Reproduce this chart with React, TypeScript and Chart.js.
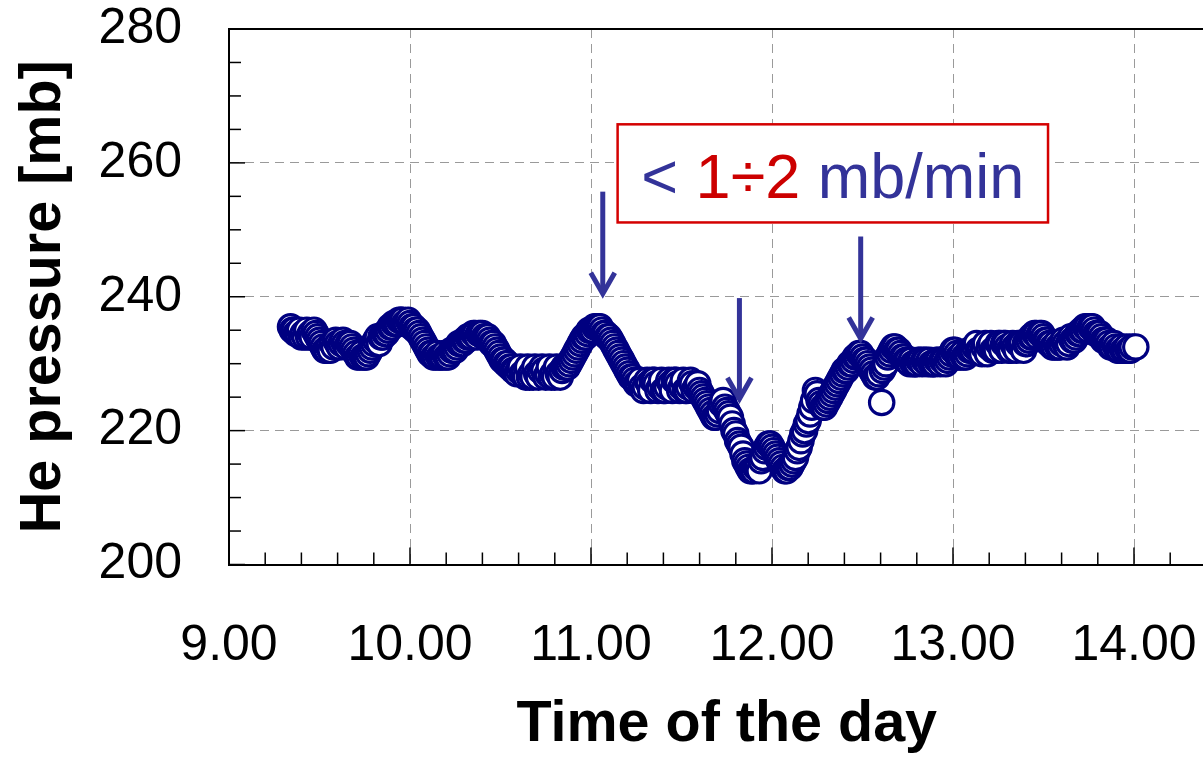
import React, { useEffect, useRef } from "react";
import { Chart, registerables } from "chart.js";

Chart.register(...registerables);

// ---- data (time of day in hours, He pressure in mb) ----
// readings at even hundredths of an hour
const timeHours = [
  9.34, 9.35, 9.36, 9.37, 9.38, 9.40, 9.42, 9.44, 9.46, 9.48,
  9.50, 9.52, 9.54, 9.56, 9.58, 9.60, 9.62, 9.64, 9.66, 9.68,
  9.70, 9.72, 9.74, 9.76, 9.78, 9.80, 9.82, 9.84, 9.86, 9.88,
  9.90, 9.92, 9.94, 9.96, 9.98, 10.00, 10.02, 10.04, 10.06, 10.08,
  10.10, 10.12, 10.14, 10.16, 10.18, 10.20, 10.22, 10.24, 10.26, 10.28,
  10.30, 10.32, 10.34, 10.36, 10.38, 10.40, 10.42, 10.44, 10.46, 10.48,
  10.50, 10.52, 10.54, 10.56, 10.58, 10.60, 10.62, 10.64, 10.66, 10.68,
  10.70, 10.72, 10.74, 10.76, 10.78, 10.80, 10.82, 10.84, 10.86, 10.88,
  10.90, 10.92, 10.94, 10.96, 10.98, 11.00, 11.02, 11.04, 11.06, 11.08,
  11.10, 11.12, 11.14, 11.16, 11.18, 11.20, 11.22, 11.24, 11.26, 11.28,
  11.30, 11.32, 11.34, 11.36, 11.38, 11.40, 11.42, 11.44, 11.46, 11.48,
  11.50, 11.52, 11.54, 11.56, 11.58, 11.60, 11.62, 11.64, 11.66, 11.68,
  11.70, 11.72, 11.74, 11.76, 11.78, 11.80, 11.82, 11.84, 11.86, 11.88,
  11.90, 11.92, 11.94, 11.96, 11.98, 12.00, 12.02, 12.04, 12.06, 12.08,
  12.10, 12.12, 12.14, 12.16, 12.18, 12.20, 12.22, 12.24, 12.26, 12.28,
  12.30, 12.32, 12.34, 12.36, 12.38, 12.40, 12.42, 12.44, 12.46, 12.48,
  12.50, 12.52, 12.54, 12.56, 12.58, 12.606, 12.62, 12.64, 12.66, 12.68,
  12.70, 12.72, 12.74, 12.76, 12.78, 12.80, 12.82, 12.84, 12.86, 12.88,
  12.90, 12.92, 12.94, 12.96, 12.98, 13.00, 13.02, 13.04, 13.06, 13.08,
  13.10, 13.12, 13.14, 13.16, 13.18, 13.20, 13.22, 13.24, 13.26, 13.28,
  13.30, 13.32, 13.34, 13.36, 13.38, 13.40, 13.42, 13.44, 13.46, 13.48,
  13.50, 13.52, 13.54, 13.56, 13.58, 13.60, 13.62, 13.64, 13.66, 13.68,
  13.70, 13.72, 13.74, 13.76, 13.78, 13.80, 13.82, 13.84, 13.86, 13.88,
  13.90, 13.92, 13.94, 13.96, 13.98, 14.01,
];

const pressureMb = [
  235.5, 235, 235, 234.5, 234.5, 234, 234, 234, 234, 234.5,
  233.5, 232.5, 232, 232, 232.5, 233, 233, 233, 233, 232.5,
  231.5, 231, 231, 231, 232, 233, 234, 234, 234.5, 235,
  235.5, 236, 236.5, 236.5, 236, 236, 235.5, 235, 234, 233,
  232, 231.5, 231, 231, 231, 231, 231.5, 232, 232.5, 233,
  233.5, 234, 234, 234.5, 234.5, 234.5, 234, 233.5, 233, 232,
  231, 230.5, 230, 229.5, 229, 229, 228.5, 228, 228, 228,
  228.5, 229, 229, 228.5, 228, 228, 228.5, 229, 229.5, 230,
  231, 232, 233, 234, 234.5, 235, 235.5, 235.5, 235, 234.5,
  234, 233, 232, 231, 230, 229, 228, 227.5, 227, 226.5,
  226.5, 227, 227.5, 227, 226.5, 226, 226.5, 227, 227.5, 227,
  226.5, 226, 226.5, 227, 226.5, 226, 225, 224, 223, 222,
  222.5, 224, 223.5, 222.5, 221, 219.5, 218, 216.5, 215, 214,
  214, 214.5, 215.5, 217, 218, 217.5, 216.5, 215.5, 214.5, 214,
  214.5, 215.5, 217, 218.5, 220, 221.5, 223.5, 226, 224.5, 223.5,
  224, 225, 226, 227, 228, 229, 229.5, 230, 231, 231.5,
  231, 230.5, 229.5, 228.5, 228, 224.2, 229.5, 231, 232, 232.5,
  232, 231, 230.5, 230, 230, 230, 230.5, 230.5, 230, 230,
  230, 230.5, 230.5, 230, 231, 232, 231.5, 231, 231, 231.5,
  232, 232.5, 232, 231.5, 233, 232.5, 232, 232, 233, 233,
  232.5, 232, 232.5, 233, 233, 233, 233.5, 234, 234.5, 234.5,
  234, 233.5, 233, 232.5, 232.5, 233, 233, 233, 233.5, 234,
  234.5, 235, 235.5, 235.5, 235, 234.5, 234, 233.5, 233, 232.5,
  232.5, 232, 232, 232.5, 232, 232.5,
];

// readings at odd hundredths of an hour
const midTimeHours = [
  9.39, 9.41, 9.43, 9.45, 9.47, 9.49, 9.51, 9.53, 9.55, 9.57,
  9.59, 9.61, 9.63, 9.65, 9.67, 9.69, 9.71, 9.73, 9.75, 9.77,
  9.79, 9.81, 9.83, 9.85, 9.87, 9.89, 9.91, 9.93, 9.95, 9.97,
  9.99, 10.01, 10.03, 10.05, 10.07, 10.09, 10.11, 10.13, 10.15, 10.17,
  10.19, 10.21, 10.23, 10.25, 10.27, 10.29, 10.31, 10.33, 10.35, 10.37,
  10.39, 10.41, 10.43, 10.45, 10.47, 10.49, 10.51, 10.53, 10.55, 10.57,
  10.59, 10.61, 10.63, 10.65, 10.67, 10.69, 10.71, 10.73, 10.75, 10.77,
  10.79, 10.81, 10.83, 10.85, 10.87, 10.89, 10.91, 10.93, 10.95, 10.97,
  10.99, 11.01, 11.03, 11.05, 11.07, 11.09, 11.11, 11.13, 11.15, 11.17,
  11.19, 11.21, 11.23, 11.25, 11.27, 11.29, 11.31, 11.33, 11.35, 11.37,
  11.39, 11.41, 11.43, 11.45, 11.47, 11.49, 11.51, 11.53, 11.55, 11.57,
  11.59, 11.61, 11.63, 11.65, 11.67, 11.69, 11.71, 11.73, 11.75, 11.77,
  11.79, 11.81, 11.83, 11.85, 11.87, 11.89, 11.91, 11.93, 11.95, 11.97,
  11.99, 12.01, 12.03, 12.05, 12.07, 12.09, 12.11, 12.13, 12.15, 12.17,
  12.19, 12.21, 12.23, 12.25, 12.27, 12.29, 12.31, 12.33, 12.35, 12.37,
  12.39, 12.41, 12.43, 12.45, 12.47, 12.49, 12.51, 12.53, 12.55, 12.57,
  12.59, 12.61, 12.63, 12.65, 12.67, 12.69, 12.71, 12.73, 12.75, 12.77,
  12.79, 12.81, 12.83, 12.85, 12.87, 12.89, 12.91, 12.93, 12.95, 12.97,
  12.99, 13.01, 13.03, 13.05, 13.07, 13.09, 13.11, 13.13, 13.15, 13.17,
  13.19, 13.21, 13.23, 13.25, 13.27, 13.29, 13.31, 13.33, 13.35, 13.37,
  13.39, 13.41, 13.43, 13.45, 13.47, 13.49, 13.51, 13.53, 13.55, 13.57,
  13.59, 13.61, 13.63, 13.65, 13.67, 13.69, 13.71, 13.73, 13.75, 13.77,
  13.79, 13.81, 13.83, 13.85, 13.87, 13.89, 13.91, 13.93, 13.95, 13.97,
  13.99,
];

const midPressureMb = [
  235, 234.5, 235, 234.5, 235, 234, 233, 232, 232.5, 233,
  233.5, 232.5, 233.5, 232.5, 233, 232, 231, 231.5, 231, 231.5,
  232.5, 233.5, 233, 234, 234.5, 235.5, 236, 236, 236.5, 236,
  236.5, 235.5, 235, 234.5, 233.5, 232.5, 231.5, 231, 231.5, 231,
  231.5, 231, 232, 232, 233, 233, 233.5, 234, 234.5, 234,
  234.5, 234, 234, 233, 232.5, 231.5, 230.5, 230, 229.5, 229,
  228.5, 229.5, 228.5, 229.5, 228.5, 229.5, 228, 229.5, 228, 229.5,
  228.5, 229.5, 228, 229.5, 229.5, 230.5, 231.5, 232.5, 233.5, 234,
  235, 235, 235.5, 235.5, 234.5, 234, 233.5, 232.5, 231.5, 230.5,
  229.5, 228.5, 228, 227, 227.5, 226, 227.5, 226, 227.5, 226,
  227.5, 226, 227.5, 226, 227.5, 226, 227.5, 226, 227.5, 226,
  227, 225.5, 224.5, 223.5, 222.5, 222, 223, 224.5, 223, 222,
  220, 218.5, 217.5, 215.5, 214.5, 214, 214.5, 214, 216, 217.5,
  218, 217, 216, 215, 214, 214.5, 215, 216, 217.5, 219.5,
  221, 222.5, 224.5, 225.5, 224, 223.5, 224.5, 225.5, 226.5, 227.5,
  228.5, 229, 230, 230.5, 231, 231.5, 230.5, 230, 229, 228,
  228.5, 229, 230, 231.5, 232.5, 232, 231.5, 231, 230.5, 230.5,
  230, 230.5, 230, 230.5, 230.5, 230, 230.5, 230, 230.5, 230.5,
  231.5, 232, 231, 231.5, 231, 232, 232, 233, 232, 232.5,
  231.5, 233, 232, 233, 232, 233, 232, 233, 232, 233,
  232, 233, 234, 234.5, 234, 234.5, 233.5, 233, 232.5, 233,
  232.5, 233.5, 232.5, 234, 233.5, 234.5, 235, 235.5, 235, 235.5,
  234.5, 234.5, 233.5, 233.5, 232.5, 233, 232, 232.5, 232, 232,
  232.5,
];

// axis labels
const xLabelValues = [9, 10, 11, 12, 13, 14];
const yLabelValues = [200, 220, 240, 260, 280];
const xTitle = "Time of the day";
const yTitle = "He pressure [mb]";

// annotation (data units)
const arrowX = [11.065, 11.82, 12.49];
const arrowTop = [255.7, 239.8, 249.0];
const arrowTip = [240.0, 224.3, 233.3];
const boxX = [11.147, 13.525];
const boxY = [265.76, 251.1];
const noteBaseline = 254.8;
const noteParts = ["< ", "1÷2", " mb/min"];
const noteColors = ["#333399", "#cc0000", "#333399"];

const FONT = '"Liberation Sans", Arial, Helvetica, sans-serif';

const isIn = (v: number, list: number[]) => list.some((l) => Math.abs(l - v) < 1e-6);

const overlayPlugin = {
  id: "overlay",
  beforeDatasetsDraw(chart: any) {
    const { ctx, chartArea } = chart;
    const xs = chart.scales.x;
    const ys = chart.scales.y;
    ctx.save();
    ctx.strokeStyle = "#000";
    ctx.lineWidth = 1.5;
    xs.ticks.forEach((t: any) => {
      const px = xs.getPixelForValue(t.value);
      if (px < chartArea.left - 0.5 || px > chartArea.right + 0.5) return;
      const len = isIn(t.value, xLabelValues) ? 17 : 12;
      ctx.beginPath();
      ctx.moveTo(px, chartArea.bottom);
      ctx.lineTo(px, chartArea.bottom - len);
      ctx.stroke();
    });
    ys.ticks.forEach((t: any) => {
      const py = ys.getPixelForValue(t.value);
      const len = isIn(t.value, yLabelValues) ? 16 : 12;
      ctx.beginPath();
      ctx.moveTo(chartArea.left, py);
      ctx.lineTo(chartArea.left + len, py);
      ctx.stroke();
    });
    ctx.lineWidth = 2;
    ctx.beginPath();
    ctx.moveTo(chartArea.left, chartArea.top);
    ctx.lineTo(chartArea.right, chartArea.top);
    ctx.stroke();
    ctx.restore();
  },
  afterDraw(chart: any) {
    const { ctx } = chart;
    const xs = chart.scales.x;
    const ys = chart.scales.y;
    ctx.save();
    ctx.strokeStyle = "#333399";
    ctx.lineWidth = 5;
    ctx.lineJoin = "miter";
    ctx.lineCap = "butt";
    arrowX.forEach((ax, i) => {
      const x = xs.getPixelForValue(ax);
      const y0 = ys.getPixelForValue(arrowTop[i]);
      const y1 = ys.getPixelForValue(arrowTip[i]);
      ctx.beginPath();
      ctx.moveTo(x, y0);
      ctx.lineTo(x, y1 - 4);
      ctx.stroke();
      ctx.beginPath();
      ctx.moveTo(x - 12, y1 - 24);
      ctx.lineTo(x, y1 - 3);
      ctx.lineTo(x + 12, y1 - 24);
      ctx.stroke();
    });
    const bl = xs.getPixelForValue(boxX[0]);
    const br = xs.getPixelForValue(boxX[1]);
    const bt = ys.getPixelForValue(boxY[0]);
    const bb = ys.getPixelForValue(boxY[1]);
    ctx.fillStyle = "#ffffff";
    ctx.fillRect(bl, bt, br - bl, bb - bt);
    ctx.strokeStyle = "#d40000";
    ctx.lineWidth = 2.5;
    ctx.strokeRect(bl, bt, br - bl, bb - bt);
    ctx.font = `63px ${FONT}`;
    ctx.textBaseline = "alphabetic";
    ctx.textAlign = "left";
    const widths = noteParts.map((p) => ctx.measureText(p).width);
    const total = widths.reduce((a, b) => a + b, 0);
    let tx = (bl + br) / 2 - total / 2;
    const ty = ys.getPixelForValue(noteBaseline);
    noteParts.forEach((p, i) => {
      ctx.fillStyle = noteColors[i];
      ctx.fillText(p, tx, ty);
      tx += widths[i];
    });
    ctx.restore();
  },
};

const zeroPadding = (s: any) => {
  s.paddingLeft = 0;
  s.paddingRight = 0;
  s.paddingTop = 0;
  s.paddingBottom = 0;
};

export default function App() {
  const ref = useRef<HTMLCanvasElement>(null);

  useEffect(() => {
    const canvas = ref.current;
    if (!canvas) return;
    const points = [
      ...timeHours.map((t, i) => ({ x: t, y: pressureMb[i] })),
      ...midTimeHours.map((t, i) => ({ x: t, y: midPressureMb[i] })),
    ].sort((a, b) => a.x - b.x);
    const chart = new Chart(canvas, {
      type: "scatter",
      data: {
        datasets: [
          {
            data: points,
            showLine: false,
            pointRadius: 12.2,
            pointHoverRadius: 12.2,
            pointBorderWidth: 3.2,
            pointBackgroundColor: "#ffffff",
            pointBorderColor: "#000080",
            backgroundColor: "#ffffff",
            borderColor: "#000080",
          },
        ],
      },
      options: {
        responsive: false,
        animation: false,
        devicePixelRatio: 1,
        events: [],
        layout: { padding: { left: 0, top: 29, right: 15.5, bottom: 0 } },
        plugins: { legend: { display: false }, tooltip: { enabled: false } },
        scales: {
          x: {
            type: "linear",
            min: 9,
            max: 14.5,
            afterFit: (s: any) => {
              s.height = 199.5;
              zeroPadding(s);
            },
            ticks: {
              stepSize: 0.2,
              autoSkip: false,
              maxRotation: 0,
              minRotation: 0,
              padding: 52,
              color: "#000",
              font: { family: FONT, size: 50 },
              callback: (v: any) => (isIn(Number(v), xLabelValues) ? Number(v).toFixed(2) : ""),
            },
            grid: {
              drawTicks: false,
              lineWidth: 1,
              color: (c: any) => {
                const v = c.tick ? c.tick.value : NaN;
                return isIn(v, xLabelValues) && v > 9.001 ? "#9a9a9a" : "rgba(0,0,0,0)";
              },
            },
            border: { display: true, color: "#000", width: 2, dash: [9, 6] },
            title: {
              display: true,
              text: xTitle,
              color: "#000",
              font: { family: FONT, size: 57.5, weight: "bold" },
              padding: { top: 0, bottom: 4 },
            },
          },
          y: {
            type: "linear",
            min: 200,
            max: 280,
            afterFit: (s: any) => {
              s.width = 229;
              zeroPadding(s);
            },
            ticks: {
              stepSize: 5,
              autoSkip: false,
              padding: 47,
              color: "#000",
              font: { family: FONT, size: 50 },
              callback: (v: any) => (isIn(Number(v), yLabelValues) ? String(v) : ""),
            },
            grid: {
              drawTicks: false,
              lineWidth: 1,
              color: (c: any) => {
                const v = c.tick ? c.tick.value : NaN;
                return isIn(v, yLabelValues) && v > 200.5 && v < 279.5 ? "#9a9a9a" : "rgba(0,0,0,0)";
              },
            },
            border: { display: true, color: "#000", width: 2, dash: [9, 6] },
            title: {
              display: true,
              text: yTitle,
              color: "#000",
              font: { family: FONT, size: 57.5, weight: "bold" },
              padding: { top: 10, bottom: 0 },
            },
          },
        },
      } as any,
      plugins: [overlayPlugin],
    });
    return () => chart.destroy();
  }, []);

  return (
    <div
      style={{
        position: "absolute",
        left: 0,
        top: 0,
        width: 1203,
        height: 764,
        overflow: "hidden",
        background: "#ffffff",
      }}
    >
      <canvas ref={ref} width={1240} height={764} style={{ display: "block", width: 1240, height: 764 }} />
    </div>
  );
}
